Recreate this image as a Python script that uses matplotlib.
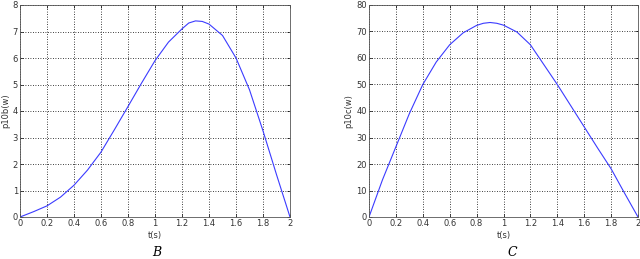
import numpy as np
import matplotlib.pyplot as plt

t_b = [0, 0.1, 0.2, 0.3, 0.4, 0.5, 0.6, 0.7, 0.8, 0.9, 1.0,
       1.1, 1.2, 1.25, 1.3, 1.35, 1.4, 1.5, 1.6, 1.7, 1.8, 1.9, 2.0]
p10b = [0, 0.2, 0.42, 0.75, 1.2, 1.77, 2.45, 3.3, 4.17, 5.05, 5.9,
        6.6, 7.1, 7.32, 7.4, 7.38, 7.28, 6.85, 6.0, 4.8, 3.25, 1.6, 0]
t_c = [0, 0.1, 0.2, 0.3, 0.4, 0.5, 0.6, 0.7, 0.8, 0.85, 0.9, 0.95, 1.0,
       1.1, 1.2, 1.3, 1.4, 1.5, 1.6, 1.7, 1.8, 1.9, 2.0]
p10c = [0, 14, 26.5, 39, 50, 58.5, 65, 69.5, 72.3, 73.1, 73.4, 73.1, 72.4,
        69.8, 65, 57.5, 50, 42, 34, 26, 18.2, 9, 0]

fig = plt.figure(figsize=(6.4, 2.59), dpi=100)
ax1 = fig.add_axes([20/640, 1-217/259, 270/640, 212/259])
ax2 = fig.add_axes([369/640, 1-217/259, 269/640, 212/259])

for ax, x, y, lab, ymax in [(ax1, t_b, p10b, 'p10b(w)', 8), (ax2, t_c, p10c, 'p10c(w)', 80)]:
    ax.plot(x, y, color='#3b3bff', lw=0.8)
    ax.set_xlim(0, 2)
    ax.set_ylim(0, ymax)
    ax.set_xticks(np.arange(0, 2.01, 0.2))
    ax.set_xticklabels(['0', '0.2', '0.4', '0.6', '0.8', '1', '1.2', '1.4', '1.6', '1.8', '2'])
    ax.set_yticks(np.linspace(0, ymax, 9))
    ax.grid(True, color='black', linestyle=(0, (1, 2)), lw=0.6)
    ax.tick_params(direction='in', labelsize=6, length=2, width=0.5,
                   labelcolor='#333333', pad=1.5, top=True, right=True)
    for s in ax.spines.values():
        s.set_linewidth(0.6)
        s.set_color('#555555')
    ax.set_xlabel('t(s)', fontsize=6, color='#333333', labelpad=2)
    ax.set_ylabel(lab, fontsize=6, color='#333333', labelpad=2)

fig.text(157/640, 1-252/259, 'B', fontsize=9, style='italic', family='serif', ha='center', va='center')
fig.text(512/640, 1-252/259, 'C', fontsize=9, style='italic', family='serif', ha='center', va='center')

fig.savefig('out.png', dpi=100)
